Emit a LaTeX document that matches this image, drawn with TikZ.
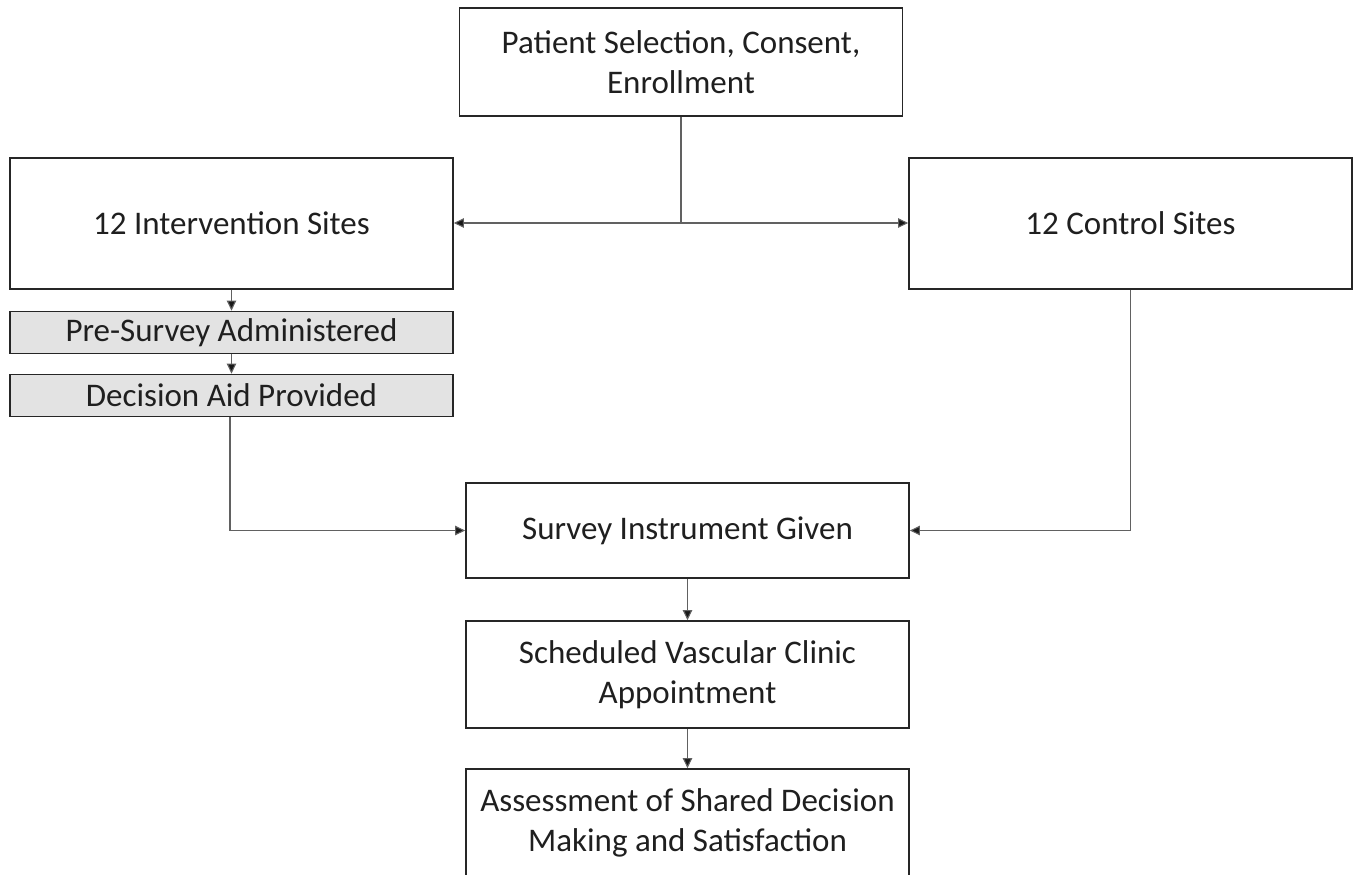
\documentclass[tikz,border=0pt]{standalone}
\usepackage{fontspec}
\setmainfont{Carlito}
\usetikzlibrary{arrows.meta}
\begin{document}
\begin{tikzpicture}[x=1pt,y=-1pt,
  box/.style={draw=black!85,line width=1.8pt,align=center,inner sep=0pt,
    minimum width=443pt,font=\fontsize{33}{40}\selectfont,text=black!88},
  graybox/.style={box,fill=black!11},
  conn/.style={draw=black!62,line width=1.1pt},
  arr/.style={conn,-{Triangle[length=10pt,width=9.5pt,fill=black!90]}}]
\useasboundingbox (0,0) rectangle (1360,875);
\node[box,minimum height=108pt] (top) at (681,62) {Patient Selection, Consent,\\Enrollment};
\node[box,minimum height=131pt] (left) at (231.5,223.5) {12 Intervention Sites};
\node[box,minimum height=131pt] (right) at (1130.5,223.5) {12 Control Sites};
\node[graybox,minimum height=42pt] (pre) at (231.5,332.5) {Pre-Survey Administered};
\node[graybox,minimum height=42pt] (aid) at (231.5,395.5) {Decision Aid Provided};
\node[box,minimum height=95pt] (survey) at (687.5,530.5) {Survey Instrument Given};
\node[box,minimum height=107pt] (sched) at (687.5,674.5) {Scheduled Vascular Clinic\\Appointment};
\node[box,minimum height=107pt] (assess) at (687.5,822.5) {Assessment of Shared Decision\\Making and Satisfaction};
\coordinate (j) at (681,223);
\draw[conn] (top.south) -- (j);
\draw[arr] (j) -- (j -| left.east);
\draw[arr] (j) -- (j -| right.west);
\draw[arr] (left.south) -- (pre.north);
\draw[arr] (pre.south) -- (aid.north);
\draw[arr] ([xshift=-1.5pt]aid.south) |- (survey.west);
\draw[arr] (right.south) |- (survey.east);
\draw[arr] (survey.south) -- (sched.north);
\draw[arr] (sched.south) -- (assess.north);
\end{tikzpicture}
\end{document}
